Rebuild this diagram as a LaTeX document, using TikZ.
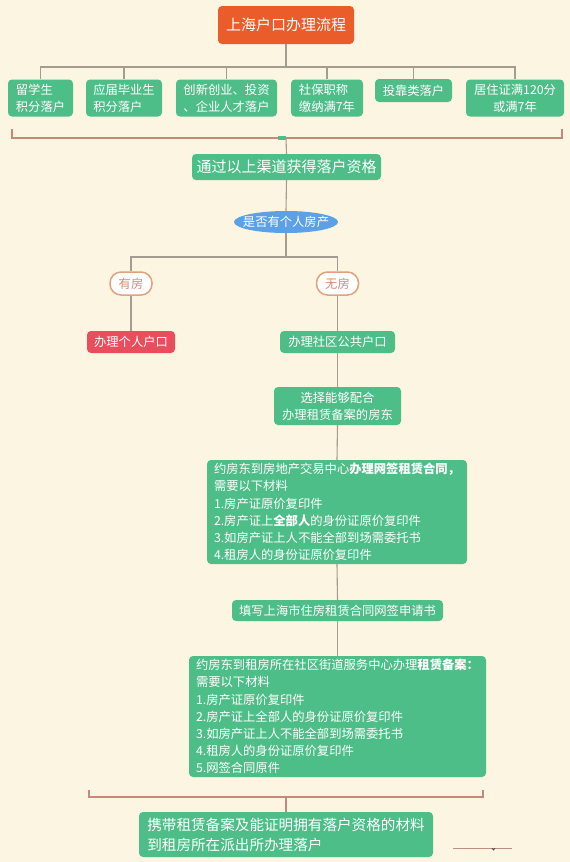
\documentclass[tikz,border=0pt]{standalone}
\usepackage{fontspec}
\setmainfont{Noto Sans CJK SC}
\usetikzlibrary{shapes.geometric}
\definecolor{bgc}{RGB}{252,245,225}
\definecolor{gc}{RGB}{78,190,137}
\definecolor{oc}{RGB}{234,92,42}
\definecolor{rc}{RGB}{232,78,92}
\definecolor{bc}{RGB}{92,160,230}
\definecolor{lc}{RGB}{165,155,145}
\definecolor{kc}{RGB}{200,135,120}
\definecolor{pc}{RGB}{226,160,125}
\definecolor{ptc}{RGB}{214,140,105}
\newcommand{\fsn}{\fontsize{12.3}{17.2}\selectfont}
\newcommand{\fsb}{\fontsize{15}{20}\selectfont}
\begin{document}
\begin{tikzpicture}[x=1pt,y=-1pt,
  gbox/.style={fill=gc,rounded corners=4pt,text=white,inner sep=0pt,font=\fsn},
  conn/.style={draw=lc,line width=1.1pt},
  brk/.style={draw=kc,line width=1.2pt},
  pill/.style={draw=pc,line width=1.5pt,fill=white,rounded corners=11pt,text=ptc,inner sep=0pt,font=\fsn,minimum width=42pt,minimum height=23pt}]
\fill[bgc] (0,0) rectangle (570,862);
\useasboundingbox (0,0) rectangle (570,862);

% title
\node[gbox,fill=oc,font=\fsb,minimum width=136pt,minimum height=38pt] (title) at (286,25) {上海户口办理流程};
\coordinate (hub1) at (286,67);

% top boxes
\node[gbox,align=left,minimum width=65pt,minimum height=37pt] (b1) at (40.5,98) {留学生\\积分落户};
\node[gbox,align=left,minimum width=76pt,minimum height=37pt] (b2) at (124,98) {应届毕业生\\积分落户};
\node[gbox,align=left,minimum width=101pt,minimum height=37pt] (b3) at (226.5,98) {创新创业、投资\\、企业人才落户};
\node[gbox,align=left,minimum width=72pt,minimum height=37pt] (b4) at (327,98) {社保职称\\缴纳满7年};
\node[gbox,minimum width=77pt,minimum height=23pt] (b5) at (413.5,90.5) {投靠类落户};
\node[gbox,align=center,minimum width=98pt,minimum height=37pt] (b6) at (515,98) {居住证满120分\\或满7年};

\draw[conn] (title.south) -- (hub1);
\foreach \b in {b1,b2,b3,b4,b5,b6} \draw[conn] (hub1) -| (\b.north);

% top bracket
\draw[brk] (12,129) -- (12,138) -- (562,138) -- (562,129);
\coordinate (bk1) at (286,138);
\fill[gc] (278,136) rectangle (286,140);

\node[gbox,font=\fsb,minimum width=189pt,minimum height=26pt] (qual) at (286.5,167) {通过以上渠道获得落户资格};
\draw[conn] (bk1) -- (qual.north);

% ellipse
\node[ellipse,fill=bc,minimum width=104pt,minimum height=22pt,inner sep=0pt] (ell) at (286,222) {};
\node[text=white,font=\fsn,inner sep=0pt] (elltxt) at (ell.center) {是否有个人房产};
\draw[conn] (qual.south) -- (ell.north);
\coordinate (hub2) at (286,257);
\draw[conn] (ell.south) -- (hub2);

\node[pill] (yes) at (131,283.5) {有房};
\node[pill] (no) at (337.5,283.5) {无房};
\draw[conn] (hub2) -| (yes.north);
\draw[conn] (hub2) -| (no.north);

\node[gbox,fill=rc,minimum width=88pt,minimum height=22pt] (r1) at (131,342) {办理个人户口};
\node[gbox,minimum width=115pt,minimum height=22pt] (g1) at (337.5,342) {办理社区公共户口};
\draw[conn] (yes.south) -- (r1.north);
\draw[conn] (no.south) -- (g1.north);

\node[gbox,align=center,minimum width=127pt,minimum height=38pt] (g2) at (337.5,406) {选择能够配合\\办理租赁备案的房东};
\draw[conn] (g1.south) -- (g2.north);

\node[gbox,align=left,minimum width=260pt,minimum height=104pt] (g3) at (337,512) {约房东到房地产交易中心\textbf{办理网签租赁合同，}\\需要以下材料\\1.房产证原价复印件\\2.房产证上\textbf{全部人}的身份证原价复印件\\3.如房产证上人不能全部到场需委托书\\4.租房人的身份证原价复印件};
\draw[conn] (g2.south) -- (g3.north);

\node[gbox,minimum width=211pt,minimum height=21pt] (g4) at (337.5,610.5) {填写上海市住房租赁合同网签申请书};
\draw[conn] (g3.south) -- (g4.north);

\node[gbox,align=left,minimum width=297pt,minimum height=121pt] (g5) at (337.5,716.5) {约房东到租房所在社区街道服务中心办理\textbf{租赁备案：}\\需要以下材料\\1.房产证原价复印件\\2.房产证上全部人的身份证原价复印件\\3.如房产证上人不能全部到场需委托书\\4.租房人的身份证原价复印件\\5.网签合同原件};
\draw[conn] (g4.south) -- (g5.north);

% bottom bracket
\draw[brk] (89,790) -- (89,797) -- (483,797) -- (483,790);
\coordinate (bk2) at (286,797);
\node[gbox,align=left,font=\fontsize{14.6}{20}\selectfont,minimum width=294pt,minimum height=45pt] (fin) at (286,834.5) {携带租赁备案及能证明拥有落户资格的材料\\到租房所在派出所办理落户};
\draw[brk] (bk2) -- (fin.north);

% stray mark
\draw[draw=kc!70!lc,line width=1pt] (453,848) -- (512,848);
\draw[black!70,line width=0.8pt] (492,848) -- (493.5,850) -- (495,848);
\end{tikzpicture}
\end{document}
